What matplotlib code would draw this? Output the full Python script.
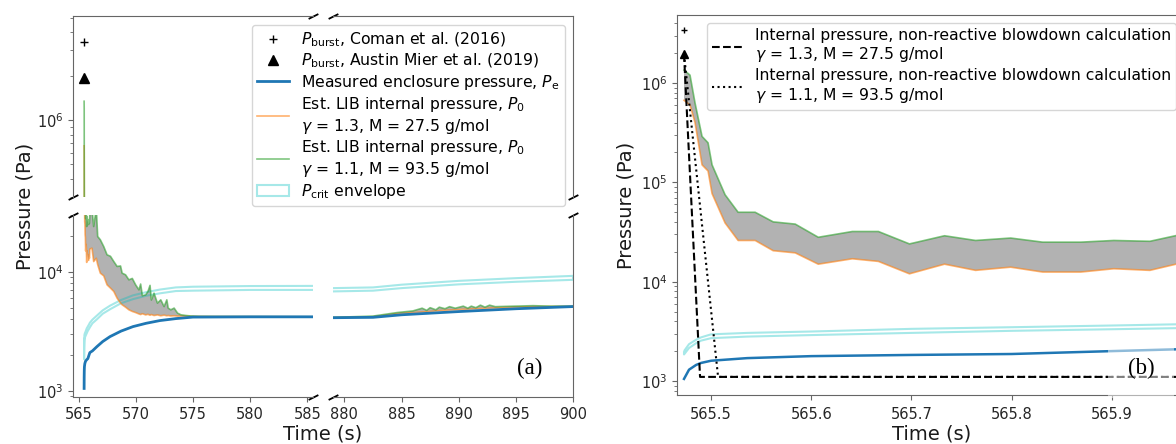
import numpy as np
import matplotlib.pyplot as plt
from matplotlib.ticker import MultipleLocator, FormatStrFormatter

# ---- data ----
# estimated LIB internal pressure P0 (orange: gamma=1.3, green: gamma=1.1)
t_p0 = [565.473, 565.479, 565.484, 565.491, 565.497, 565.501, 565.514, 565.527, 565.544, 565.562,
        565.584, 565.607, 565.641, 565.667, 565.698, 565.733, 565.764, 565.799, 565.831, 565.869,
        565.902, 565.938, 565.970,
        566.16, 566.31, 566.54, 566.66, 566.89, 567.19, 567.48, 567.78, 568.07, 568.36,
        568.66, 568.80, 569.10, 569.39, 569.69, 569.98, 570.27, 570.42, 570.57, 570.86,
        571.06, 571.24, 571.36, 571.59, 571.89, 572.18, 572.47, 572.71, 572.83, 573.06,
        573.35, 573.65, 573.94, 574.38, 574.82, 575.5, 577.0, 580.0, 585.5,
        879.0, 882.5, 884.6, 886.0, 886.8, 887.2, 887.5, 888.0, 888.3, 888.8,
        889.2, 889.7, 890.4, 890.8, 891.1, 891.5, 891.9, 892.3, 892.7, 893.2,
        894.8, 896.5, 898.0, 900.0]
p0_hi = [1.35e6, 1.2e6, 6.3e5, 2.9e5, 2.5e5, 1.5e5, 7.5e4, 5.0e4, 5.0e4, 4.0e4,
         3.8e4, 2.8e4, 3.2e4, 3.2e4, 2.4e4, 2.9e4, 2.6e4, 2.75e4, 2.5e4, 2.5e4,
         2.6e4, 2.55e4, 3.0e4,
         3.4e4, 2.4e4, 3.4e4, 1.98e4, 1.86e4, 1.63e4, 1.39e4, 1.35e4, 1.22e4, 1.11e4,
         1.12e4, 9750, 9440, 8570, 8800, 7780, 7060, 7900, 6300, 6410,
         6840, 7700, 5800, 6620, 5460, 5820, 5110, 5820, 4960, 4800,
         4960, 4500, 4360, 4300, 4260, 4230, 4220, 4210, 4200,
         4150, 4250, 4550, 4700, 4950, 4750, 5000, 4800, 5050, 4900,
         5100, 4950, 5150, 4950, 5150, 5000, 5250, 5050, 5250, 5100,
         5150, 5200, 5150, 5150]
p0_lo = [6.7e5, 6.0e5, 4.0e5, 1.5e5, 1.3e5, 7.7e4, 3.9e4, 2.6e4, 2.6e4, 2.05e4,
         1.95e4, 1.5e4, 1.7e4, 1.6e4, 1.2e4, 1.5e4, 1.3e4, 1.4e4, 1.25e4, 1.25e4,
         1.35e4, 1.3e4, 1.55e4,
         1.58e4, 1.22e4, 1.3e4, 1.15e4, 9750, 9250, 7780, 7300, 6840, 6010,
         5460, 5290, 5050, 4800, 4650, 4550, 4430, 4380, 4450, 4350,
         4400, 4320, 4380, 4300, 4350, 4280, 4330, 4280, 4300, 4260,
         4280, 4250, 4260, 4240, 4230, 4220, 4210, 4200, 4190,
         4130, 4200, 4450, 4550, 4600, 4620, 4650, 4700, 4720, 4760,
         4780, 4800, 4850, 4860, 4880, 4900, 4920, 4940, 4960, 4980,
         5050, 5100, 5120, 5130]

# measured enclosure pressure Pe and Pcrit envelope
t_pe = [565.473, 565.478, 565.485, 565.49, 565.50, 565.536, 565.60, 565.70, 565.80, 565.90,
        565.975, 566.2, 566.6, 567.1, 567.74, 568.7, 569.75, 570.9, 572.11, 573.5,
        575.0, 580.0, 585.5,
        879.0, 882.5, 885.0, 890.0, 895.0, 900.0]
pe = [1050, 1300, 1450, 1520, 1600, 1700, 1780, 1830, 1870, 2000,
      2100, 2170, 2360, 2600, 2860, 3180, 3470, 3700, 3900, 4050,
      4170, 4190, 4190,
      4120, 4150, 4360, 4640, 4900, 5110]
crit_lo = [1850, 2150, 2400, 2550, 2700, 2800, 2900, 3050, 3200, 3320,
           3420, 3700, 4000, 4450, 4850, 5450, 5900, 6300, 6600, 6900,
           6950, 7050, 7050,
           6850, 6950, 7300, 7850, 8250, 8570]
crit_hi = [2000, 2350, 2600, 2750, 2950, 3050, 3150, 3350, 3480, 3620,
           3740, 3970, 4300, 4750, 5200, 5800, 6350, 6750, 7100, 7400,
           7500, 7600, 7620,
           7300, 7400, 7800, 8400, 8850, 9250]

# burst pressures
t_burst = 565.473
p_coman = 3.4e6
p_mier = 1.95e6

# non-reactive blowdown calculations
t_bd13 = [565.473, 565.489, 566.1]
p_bd13 = [1.95e6, 1.1e3, 1.1e3]
t_bd11 = [565.473, 565.507, 566.1]
p_bd11 = [1.95e6, 1.1e3, 1.1e3]

plt.rcParams['font.family'] = 'DejaVu Sans'
plt.rcParams['axes.edgecolor'] = '0.4'
plt.rcParams['xtick.color'] = '0.4'
plt.rcParams['ytick.color'] = '0.4'
plt.rcParams['xtick.labelcolor'] = '0.15'
plt.rcParams['ytick.labelcolor'] = '0.15'
plt.rcParams['xtick.labelsize'] = 10.5
plt.rcParams['ytick.labelsize'] = 10.5

W, H = 1176, 444
fig = plt.figure(figsize=(W / 100, H / 100), dpi=100)


def px(l, t, r, b):
    return [l / W, 1 - b / H, (r - l) / W, (b - t) / H]


ax_tl = fig.add_axes(px(73, 16, 313, 197))
ax_tr = fig.add_axes(px(333, 16, 573, 197))
ax_bl = fig.add_axes(px(73, 215, 313, 397))
ax_br = fig.add_axes(px(333, 215, 573, 397))
ax_b = fig.add_axes(px(677, 15, 1187, 395))


def draw(ax, ms_plus, ms_tri, lw_pe):
    ax.fill_between(t_p0, p0_lo, p0_hi, color='gray', alpha=0.6, lw=0)
    l1, = ax.plot(t_p0, p0_lo, color='C1', lw=1.2, alpha=0.6)
    l2, = ax.plot(t_p0, p0_hi, color='C2', lw=1.2, alpha=0.6)
    env = ax.fill_between(t_pe, crit_lo, crit_hi, facecolor='none', edgecolor='c',
                          alpha=0.35, lw=1.5)
    l0, = ax.plot(t_pe, pe, color='C0', lw=lw_pe)
    m1, = ax.plot([t_burst], [p_coman], 'k+', ms=ms_plus)
    m2, = ax.plot([t_burst], [p_mier], 'k^', ms=ms_tri)
    ax.set_yscale('log')
    return [m1, m2, l0, l1, l2, env]


handles_a = draw(ax_tl, 6, 7, 2.0)
for ax in (ax_tr, ax_bl, ax_br):
    draw(ax, 6, 7, 2.0)

for ax in (ax_tl, ax_tr):
    ax.set_ylim(3e5, 5.15e6)
for ax in (ax_bl, ax_br):
    ax.set_ylim(890, 3.0e4)
for ax in (ax_tl, ax_bl):
    ax.set_xlim(564.5, 585.5)
for ax in (ax_tr, ax_br):
    ax.set_xlim(879, 900)

ax_tl.spines[['bottom', 'right']].set_visible(False)
ax_tr.spines[['bottom', 'left']].set_visible(False)
ax_bl.spines[['top', 'right']].set_visible(False)
ax_br.spines[['top', 'left']].set_visible(False)
ax_tl.tick_params(which='both', bottom=False, labelbottom=False)
ax_tr.tick_params(which='both', bottom=False, labelbottom=False, left=False, labelleft=False)
ax_br.tick_params(which='both', left=False, labelleft=False)
ax_bl.set_xticks([565, 570, 575, 580, 585])
ax_br.set_xticks([880, 885, 890, 895, 900])

# break marks
kw = dict(marker=[(-1, -0.5), (1, 0.5)], markersize=7, linestyle='none',
          color='k', mec='k', mew=1.3, clip_on=False)
ax_tl.plot([0, 1], [0, 1], transform=ax_tl.transAxes, **kw)
ax_tr.plot([0, 1], [1, 0], transform=ax_tr.transAxes, **kw)
ax_bl.plot([0, 1], [1, 0], transform=ax_bl.transAxes, **kw)
ax_br.plot([0, 1], [0, 1], transform=ax_br.transAxes, **kw)

labels_a = [r'$P_\mathrm{burst}$, Coman et al. (2016)',
            r'$P_\mathrm{burst}$, Austin Mier et al. (2019)',
            r'Measured enclosure pressure, $P_\mathrm{e}$',
            'Est. LIB internal pressure, $P_0$\n$\\gamma$ = 1.3, M = 27.5 g/mol',
            'Est. LIB internal pressure, $P_0$\n$\\gamma$ = 1.1, M = 93.5 g/mol',
            r'$P_\mathrm{crit}$ envelope']
fig.legend(handles_a, labels_a, loc='upper left', bbox_to_anchor=(252 / W, 1 - 25 / H),
           fontsize=11.25, borderaxespad=0, labelspacing=0.18, borderpad=0.35)

fig.text(25 / W, 1 - 206.5 / H, 'Pressure (Pa)', rotation=90, ha='center', va='center',
         fontsize=14, color='0.1')
fig.text(323 / W, 1 - 434 / H, 'Time (s)', ha='center', va='center', fontsize=14, color='0.1')
fig.text(530 / W, 1 - 368 / H, '(a)', ha='center', va='center', fontsize=16.5,
         family='Liberation Serif')

# panel (b)
draw(ax_b, 5, 6, 1.8)
d1, = ax_b.plot(t_bd13, p_bd13, 'k--', lw=1.5)
d2, = ax_b.plot(t_bd11, p_bd11, 'k:', lw=1.5)
ax_b.set_xlim(565.466, 565.975)
ax_b.set_ylim(723, 4.84e6)
ax_b.xaxis.set_major_locator(MultipleLocator(0.1))
ax_b.xaxis.set_major_formatter(FormatStrFormatter('%.1f'))
ax_b.tick_params(axis='x', pad=5)
ax_b.set_xlabel('Time (s)', fontsize=14, color='0.1', labelpad=2)
ax_b.set_ylabel('Pressure (Pa)', fontsize=14, color='0.1')
fig.legend([d1, d2],
           ['Internal pressure, non-reactive blowdown calculation\n$\\gamma$ = 1.3, M = 27.5 g/mol',
            'Internal pressure, non-reactive blowdown calculation\n$\\gamma$ = 1.1, M = 93.5 g/mol'],
           loc='upper left', bbox_to_anchor=(707 / W, 1 - 23 / H), fontsize=11.25,
           borderaxespad=0, labelspacing=0.25, borderpad=0.3)
ax_b.text(1141 / W, 1 - 368 / H, '(b)', transform=fig.transFigure, ha='center', va='center',
          fontsize=16.5, family='Liberation Serif',
          bbox=dict(facecolor='white', alpha=0.5, edgecolor='none', pad=14))

fig.savefig('out.png', dpi=100)
